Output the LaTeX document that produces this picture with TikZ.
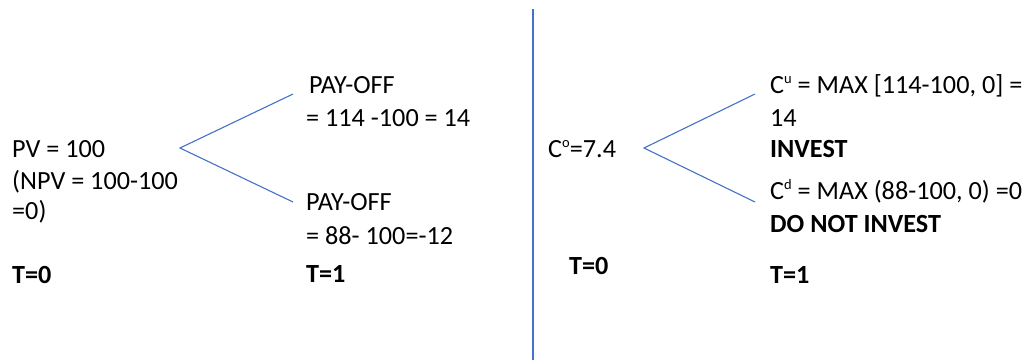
\documentclass[tikz,border=0pt]{standalone}
\usepackage{fontspec}
\setmainfont{Carlito}
\definecolor{branchblue}{HTML}{4472C4}
% small raised index after C
\newcommand{\idx}[1]{\raisebox{9.5pt}{\fontsize{14.5}{14.5}\selectfont #1}}
\begin{document}
\begin{tikzpicture}[x=1pt,y=-1pt,
  txt/.style={anchor=base west,inner sep=0pt,font=\fontsize{26.2}{30}\selectfont},
  btxt/.style={anchor=base west,inner sep=0pt,font=\fontsize{26.2}{30}\selectfont\bfseries},
  branch/.style={draw=branchblue,line width=1.1pt},
  divider/.style={draw=branchblue,line width=1.3pt}]
\useasboundingbox (0,0) rectangle (1032,360);

% dividing rule between the two trees
\coordinate (divtop) at (533,9);
\coordinate (divbot) at (533,360);
\draw[divider] (divtop) -- (divbot);

% ---- left tree: project value ----
\node[txt] (pv)   at (12,157) {PV = 100};
\node[txt] (npv)  at (12,189) {(NPV = 100-100};
\node[txt] (npv2) at (12,219) {=0)};
\node[btxt] (lt0) at (12,283) {T=0};

\node[txt] (lup1) at (309,93)  {PAY-OFF};
\node[txt] (lup2) at (306,126) {= 114 -100 = 14};
\node[txt] (ldn1) at (306,210) {PAY-OFF};
\node[txt] (ldn2) at (306,244) {= 88- 100=-12};
\node[btxt] (lt1) at (306,282) {T=1};

\coordinate (lroot) at (180,148);
\coordinate (lupend) at (293,94);
\coordinate (ldnend) at (293,202);
\draw[branch] (lupend) -- (lroot) -- (ldnend);

% ---- right tree: option value ----
\node[txt] (c0)  at (548,157) {C\idx{o}=7.4};
\node[btxt] (rt0) at (569,274) {T=0};

\node[txt] (cu1) at (770,93)  {C\idx{u} = MAX [114-100, 0] =};
\node[txt] (cu2) at (770,126) {14};
\node[btxt] (cu3) at (770,157) {INVEST};
\node[txt] (cd1) at (770,199) {C\idx{d} = MAX (88-100, 0) =0};
\node[btxt] (cd2) at (770,232) {DO NOT INVEST};
\node[btxt] (rt1) at (770,283) {T=1};

\coordinate (rroot) at (644,148);
\coordinate (rupend) at (755,94);
\coordinate (rdnend) at (755,202);
\draw[branch] (rupend) -- (rroot) -- (rdnend);
\end{tikzpicture}
\end{document}
